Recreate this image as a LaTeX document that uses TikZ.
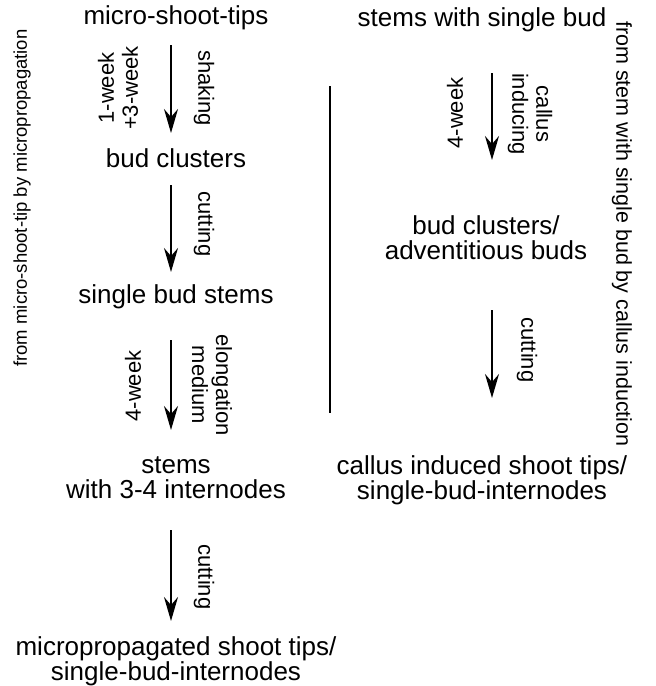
\documentclass[tikz,border=0pt]{standalone}
\usepackage{fontspec}
\setmainfont{Liberation Sans}
\usetikzlibrary{arrows.meta}
\begin{document}
\begin{tikzpicture}[x=1pt,y=-1pt,
  main/.style={font=\fontsize{26}{25}\selectfont, inner sep=0pt, align=center},
  lab/.style={font=\fontsize{22}{24}\selectfont, inner sep=0pt, align=center},
  sidel/.style={font=\fontsize{18.5}{22}\selectfont, inner sep=0pt},
  sider/.style={font=\fontsize{21.5}{24}\selectfont, inner sep=0pt},
  arr/.style={line width=2pt, -{Stealth[length=24pt,width=14pt,inset=8pt]}},
  sep/.style={line width=2pt}
]
\useasboundingbox (0,0) rectangle (656,686);
% left column
\node[main] (mst) at (176,18) {micro-shoot-tips};
\node[main] (bc) at (176,158) {bud clusters};
\node[main] (sbs) at (176,297) {single bud stems};
\node[main] (stm) at (176,478) {stems\\with 3-4 internodes};
\node[main] (mps) at (176,661) {micropropagated shoot tips/\\single-bud-internodes};
% right column
\node[main] (swsb) at (482,20) {stems with single bud};
\node[main] (bca) at (486,238) {bud clusters/\\adventitious buds};
\node[main] (cis) at (482,480) {callus induced shoot tips/\\single-bud-internodes};
% side texts
\node[sidel, rotate=90] (lside) at (22,198) {from micro-shoot-tip by micropropagation};
\node[sider, rotate=-90] (rside) at (622,234) {from stem with single bud by callus induction};
% arrow labels
\node[lab, rotate=90] (w1) at (118,88) {1-week\\+3-week};
\node[lab, rotate=-90] (shk) at (204,88) {shaking};
\node[lab, rotate=-90] (cut1) at (204,224) {cutting};
\node[lab, rotate=90] (w4) at (133,386) {4-week};
\node[lab, rotate=-90] (elm) at (212,385) {elongation\\medium};
\node[lab, rotate=-90] (cut2) at (204,577) {cutting};
\node[lab, rotate=90] (w4r) at (455,113) {4-week};
\node[lab, rotate=-90] (cind) at (530,114) {callus\\inducing};
\node[lab, rotate=-90] (cut3) at (527,350) {cutting};
% arrow end points
\coordinate (a1s) at (171,45);  \coordinate (a1e) at (171,133);
\coordinate (a2s) at (171,185); \coordinate (a2e) at (171,272);
\coordinate (a3s) at (171,340); \coordinate (a3e) at (171,430);
\coordinate (a4s) at (171,530); \coordinate (a4e) at (171,621);
\coordinate (r1s) at (492,73);  \coordinate (r1e) at (492,160);
\coordinate (r2s) at (492,310); \coordinate (r2e) at (492,398);
\coordinate (vs) at (330,86);   \coordinate (ve) at (330,413);
\draw[arr] (a1s) -- (a1e);
\draw[arr] (a2s) -- (a2e);
\draw[arr] (a3s) -- (a3e);
\draw[arr] (a4s) -- (a4e);
\draw[arr] (r1s) -- (r1e);
\draw[arr] (r2s) -- (r2e);
\draw[sep] (vs) -- (ve);
\end{tikzpicture}
\end{document}
